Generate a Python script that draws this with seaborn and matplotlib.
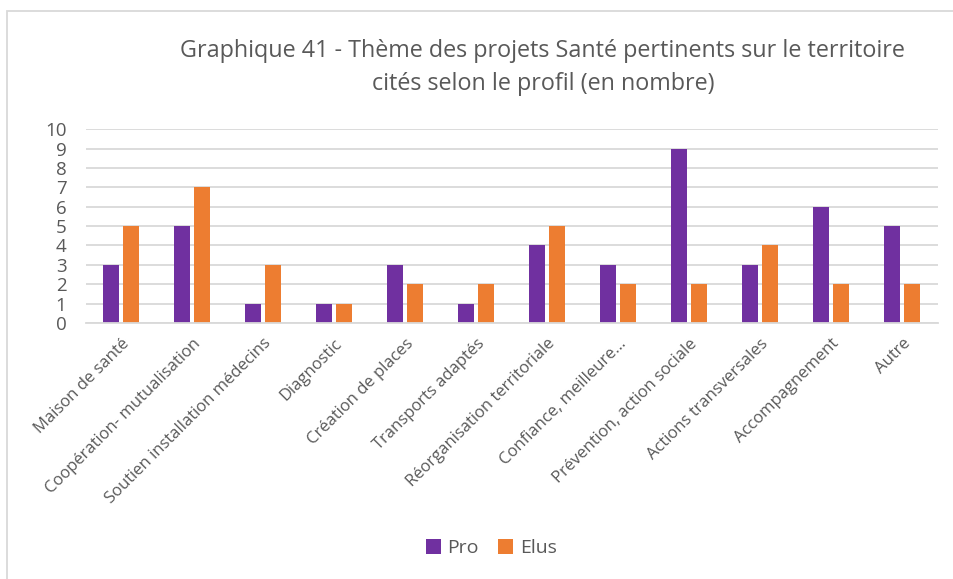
import matplotlib
matplotlib.use("Agg")
import matplotlib.pyplot as plt
import seaborn as sns
import pandas as pd
from matplotlib.patches import Rectangle, Patch

categories = [
    "Maison de santé",
    "Coopération- mutualisation",
    "Soutien installation médecins",
    "Diagnostic",
    "Création de places",
    "Transports adaptés",
    "Réorganisation territoriale",
    "Confiance, meilleure…",
    "Prévention, action sociale",
    "Actions transversales",
    "Accompagnement",
    "Autre",
]
pro = [3, 5, 1, 1, 3, 1, 4, 3, 9, 3, 6, 5]
elus = [5, 7, 3, 1, 2, 2, 5, 2, 2, 4, 2, 2]
series = ["Pro", "Elus"]
colors = ["#7030A0", "#ED7D31"]
yticks = list(range(0, 11))
title = ("Graphique 41 - Thème des projets Santé pertinents sur le territoire\n"
         "cités selon le profil (en nombre)")

df = pd.DataFrame({
    "categorie": categories * 2,
    "profil": [series[0]] * len(categories) + [series[1]] * len(categories),
    "nombre": pro + elus,
})

sns.set_theme(style="white")
plt.rcParams["font.family"] = ["Open Sans", "DejaVu Sans"]
text_color = "#595959"

fig = plt.figure(figsize=(9.54, 5.79), dpi=100)
ax = fig.add_axes([0.090, 0.442, 0.893, 0.335])

sns.barplot(data=df, x="categorie", y="nombre", hue="profil",
            hue_order=series, order=categories, palette=colors,
            width=0.56, gap=0.2, ax=ax, legend=False,
            linewidth=0, saturation=1)

ax.set_ylim(0, 10)
ax.set_xlim(-0.5, len(categories) - 0.5)
ax.set_yticks(yticks)
ax.set_yticklabels([str(v) for v in yticks], fontsize=13.5, color=text_color)
ax.yaxis.grid(True, color="#D9D9D9", linewidth=1.3)
ax.set_axisbelow(True)
for s in ["top", "right", "left"]:
    ax.spines[s].set_visible(False)
ax.spines["bottom"].set_color("#D9D9D9")
ax.spines["bottom"].set_linewidth(1.3)
ax.tick_params(axis="both", length=0)
ax.tick_params(axis="x", pad=9)
ax.tick_params(axis="y", pad=14)
ax.set_xticks(range(len(categories)))
ax.set_xticklabels(categories, rotation=45, ha="right", rotation_mode="anchor",
                   fontsize=12, color=text_color)
ax.set_xlabel("")
ax.set_ylabel("")

fig.text(0.569, 0.883, title, ha="center", va="center", fontsize=16.8,
         color=text_color, linespacing=1.5)

handles = [Patch(facecolor=c, edgecolor="none") for c in colors]
fig.legend(handles, series, loc="center", bbox_to_anchor=(0.515, 0.053),
           ncol=2, frameon=False, fontsize=14, handlelength=0.75,
           handleheight=0.75, handletextpad=0.35, columnspacing=1.0,
           labelcolor=text_color)

# outer chart frame
fig.patches.append(Rectangle((7 / 954, -0.05), 1.1, 1 - 11 / 579 + 0.05,
                             transform=fig.transFigure, fill=False,
                             edgecolor="#D9D9D9", linewidth=1.3))

fig.savefig("out.png", dpi=100, facecolor="white")
